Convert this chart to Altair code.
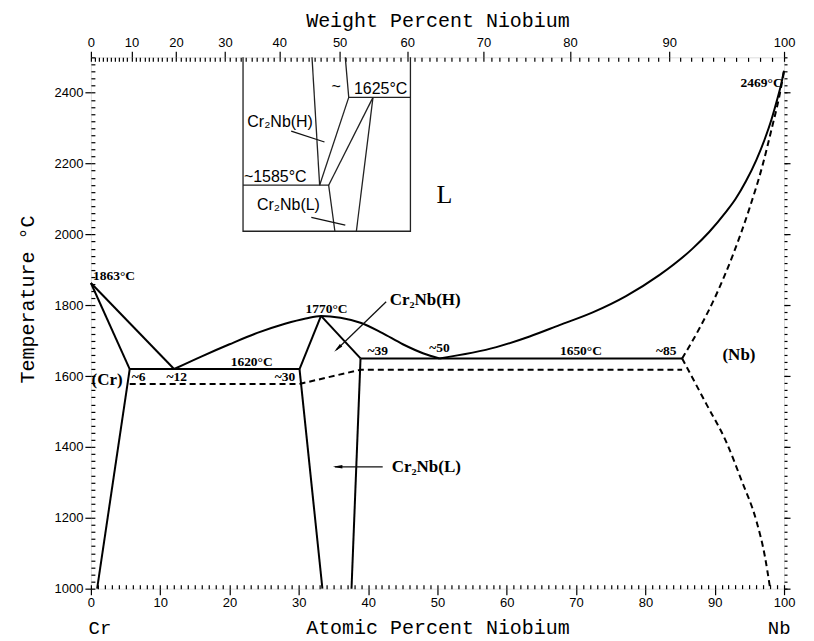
import altair as alt
import pandas as pd
import numpy as np

# ---------------- data (atomic % Nb, temperature degC) ----------------
# solid boundaries (straight)
cr_liq_x = [0.0, 12.0];            cr_liq_t = [1863, 1620]
cr_sol_x = [0.0, 5.6];             cr_sol_t = [1863, 1620]
cr_solvus_x = [5.6, 0.9];          cr_solvus_t = [1620, 1000]
eut1_x = [5.6, 30.1];              eut1_t = [1620, 1620]
h_left_x = [33.2, 30.1];           h_left_t = [1770, 1620]
h_right_x = [33.2, 38.9];          h_right_t = [1770, 1650]
l_left_x = [30.1, 33.4];           l_left_t = [1620, 1000]
l_right_x = [38.9, 37.6];          l_right_t = [1650, 1000]
eut2_x = [38.9, 85.3];             eut2_t = [1650, 1650]
# solid boundaries (curved)
dome_x = [12.0, 16.0, 20.0, 24.0, 28.0, 31.0, 33.2, 36.0, 39.0, 42.0, 45.0, 48.0, 50.3]
dome_t = [1620, 1656, 1690, 1722, 1748, 1763, 1770, 1765, 1750, 1722, 1690, 1664, 1650]
nb_liq_x = [50.3, 58.5, 63.3, 67.6, 72.4, 77.2, 82.0, 86.8, 89.2, 91.6, 93.0, 94.5, 96.0,
            97.2, 98.2, 99.0, 99.6, 100.0]
nb_liq_t = [1650, 1682, 1712, 1744, 1780, 1826, 1885, 1960, 2007, 2063, 2100, 2150, 2210,
            2268, 2325, 2380, 2425, 2462]
# dashed boundaries (straight)
d1_x = [5.6, 30.1];                d1_t = [1578, 1578]
d2_x = [30.1, 38.9, 85.3];         d2_t = [1578, 1618, 1618]
# dashed boundaries (curved)
nb_sol_x = [85.3, 87.8, 90.2, 92.6, 95.0, 96.9, 98.3, 99.3, 100.0]
nb_sol_t = [1650, 1735, 1829, 1941, 2073, 2195, 2305, 2388, 2462]
nb_solvus_x = [85.3, 88.8, 91.6, 93.9, 96.0, 97.2, 98.0]
nb_solvus_t = [1650, 1521, 1417, 1304, 1192, 1095, 1000]
# inset (drawn in the main coordinates)
ins_box_x = [21.95, 21.95, 46.1, 46.1];   ins_box_t = [2500, 2009, 2009, 2500]
ins_a_x = [31.9, 33.0];                    ins_a_t = [2500, 2139]
ins_b_x = [36.7, 37.2, 46.1];              ins_b_t = [2500, 2387, 2387]
ins_c_x = [37.2, 33.0];                    ins_c_t = [2387, 2139]
ins_d_x = [40.7, 34.3];                    ins_d_t = [2387, 2139]
ins_e_x = [40.7, 38.3];                    ins_e_t = [2387, 2009]
ins_f_x = [21.95, 34.3, 35.2];             ins_f_t = [2139, 2139, 2009]
ins_lh_x = [28.9, 33.7];                   ins_lh_t = [2292, 2261]
ins_ll_x = [31.8, 36.7];                   ins_ll_t = [2048, 2026]
# leader arrows in main diagram
arr_h_x = [42.6, 35.4];                    arr_h_t = [1810, 1674]
arr_l_x = [42.1, 35.2];                    arr_l_t = [1344, 1344]
head_x = [35.6, 35.6];  head_t = [1678, 1344];  head_angle = [227, 270]

# labels
main_lbl_text = ["1863°C", "~6", "~12", "1620°C", "~30", "1770°C", "~39", "~50",
                 "1650°C", "~85", "2469°C"]
main_lbl_x = [0.3, 6.9, 12.4, 23.2, 28.0, 34.0, 41.4, 50.3, 70.7, 83.0, 99.8]
main_lbl_t = [1882, 1597, 1597, 1640, 1597, 1790, 1670, 1680, 1670, 1672, 2428]
main_lbl_align = ["left", "center", "center", "center", "center", "center", "center",
                  "center", "center", "center", "right"]
phase_text = ["(Cr)", "(Nb)", "Cr₂Nb(H)", "Cr₂Nb(L)"]
phase_x = [0.1, 93.5, 43.1, 43.4]
phase_t = [1589, 1660, 1815, 1344]
phase_align = ["left", "center", "left", "left"]
ins_text = ["~", "1625°C", "Cr₂Nb(H)", "~1585°C", "Cr₂Nb(L)"]
ins_x = [35.4, 41.8, 27.3, 26.6, 28.5]
ins_t = [2415, 2412, 2318, 2163, 2082]

wt_ticks = [0, 10, 20, 30, 40, 50, 60, 70, 80, 90, 100]
at_ticks = [0, 10, 20, 30, 40, 50, 60, 70, 80, 90, 100]
t_ticks = [1000, 1200, 1400, 1600, 1800, 2000, 2200, 2400]

M_NB, M_CR = 92.906, 51.996
def wt_to_at(w):
    if w >= 100:
        return 100.0
    a = (w / M_NB) / (w / M_NB + (100 - w) / M_CR)
    return 100.0 * a

# ---------------- build tables ----------------
segs = {
    "solid": [(cr_liq_x, cr_liq_t), (cr_sol_x, cr_sol_t), (cr_solvus_x, cr_solvus_t),
              (eut1_x, eut1_t), (h_left_x, h_left_t), (h_right_x, h_right_t),
              (l_left_x, l_left_t), (l_right_x, l_right_t), (eut2_x, eut2_t)],
    "solid_curve": [(dome_x, dome_t), (nb_liq_x, nb_liq_t)],
    "dashed": [(d1_x, d1_t), (d2_x, d2_t)],
    "dashed_curve": [(nb_sol_x, nb_sol_t), (nb_solvus_x, nb_solvus_t)],
    "inset": [(ins_box_x, ins_box_t), (ins_a_x, ins_a_t), (ins_b_x, ins_b_t), (ins_c_x, ins_c_t),
              (ins_d_x, ins_d_t), (ins_e_x, ins_e_t), (ins_f_x, ins_f_t)],
    "leader": [(ins_lh_x, ins_lh_t), (ins_ll_x, ins_ll_t), (arr_h_x, arr_h_t), (arr_l_x, arr_l_t)],
}
rows = []
for kind, lst in segs.items():
    for k, (xs_, ts_) in enumerate(lst):
        for i, (xv, tv) in enumerate(zip(xs_, ts_)):
            rows.append({"kind": kind, "seg": f"{kind}{k}", "i": i, "x": xv, "t": tv})
lines = pd.DataFrame(rows)

xs = alt.Scale(domain=[0, 100], nice=False, zero=False)
ys = alt.Scale(domain=[1000, 2500], nice=False, zero=False)

TICKFONT = "Liberation Sans Narrow, Liberation Sans, sans-serif"
TITLEFONT = "Liberation Mono, monospace"

def line_layer(kind, width, dash=None, color="black", interp="linear"):
    kw = dict(strokeWidth=width, color=color, strokeCap="butt", strokeJoin="miter",
              interpolate=interp)
    if dash:
        kw["strokeDash"] = dash
    return alt.Chart(lines[lines["kind"] == kind]).mark_line(**kw).encode(
        x=alt.X("x:Q", scale=xs, axis=None),
        y=alt.Y("t:Q", scale=ys, axis=None),
        detail="seg:N", order="i:Q")

anchor = pd.DataFrame({"x": [50.0], "t": [1500.0]})
def axis_layer(xaxis=None, yaxis=None):
    return alt.Chart(anchor).mark_point(opacity=0).encode(
        x=alt.X("x:Q", scale=xs, axis=xaxis),
        y=alt.Y("t:Q", scale=ys, axis=yaxis))

common = dict(grid=False, domain=False, tickColor="black", tickWidth=1.2, labelFlush=False,
              labelColor="black", labelFont=TICKFONT, labelFontSize=13)

bottom_major = alt.Axis(orient="bottom", values=at_ticks, tickSize=6, labelPadding=2,
                        title="Atomic Percent Niobium", titleFont=TITLEFONT, titleFontSize=20,
                        titleFontWeight="normal", titleColor="black", titlePadding=8,
                        format="d", **common)
bottom_minor = alt.Axis(orient="bottom", values=list(range(0, 101)), tickSize=4, offset=-4,
                        labels=False, title=None, **common)
left_major = alt.Axis(orient="left", values=t_ticks, tickSize=6, labelPadding=2,
                      title="Temperature °C", titleFont=TITLEFONT, titleFontSize=20,
                      titleFontWeight="normal", titleColor="black", titlePadding=17,
                      titleY=242, format="d", **common)
left_minor = alt.Axis(orient="left", values=list(range(1000, 2501, 20)), tickSize=4, offset=-4,
                      labels=False, title=None, **common)
right_major = alt.Axis(orient="right", values=t_ticks, tickSize=6,
                       labels=False, title=None, **common)
right_minor = alt.Axis(orient="right", values=list(range(1000, 2501, 20)), tickSize=3,
                       labels=False, title=None, **common)
top_major = alt.Axis(orient="top", values=[wt_to_at(w) for w in wt_ticks], tickSize=6,
                     labelPadding=2,
                     labelExpr="format(round(100*datum.value*92.906/(datum.value*92.906+(100-datum.value)*51.996)), 'd')",
                     title="Weight Percent Niobium", titleFont=TITLEFONT, titleFontSize=20,
                     titleFontWeight="normal", titleColor="black", titlePadding=6, **common)
top_minor = alt.Axis(orient="top", values=[wt_to_at(w) for w in range(0, 101)], tickSize=4,
                     offset=-4, labels=False, title=None, **common)

main_lbl = pd.DataFrame({"text": main_lbl_text, "x": main_lbl_x, "t": main_lbl_t,
                         "al": main_lbl_align})
def text_layer(df, align, font, size, weight="normal"):
    return alt.Chart(df).mark_text(align=align, baseline="middle", font=font, fontSize=size,
                                   fontWeight=weight, color="black").encode(
        x=alt.X("x:Q", scale=xs, axis=None), y=alt.Y("t:Q", scale=ys, axis=None), text="text:N")

lbl_layers = []
for al in ["left", "center", "right"]:
    sub = main_lbl[main_lbl["al"] == al]
    if len(sub):
        lbl_layers.append(text_layer(sub, al, "Liberation Serif", 13.5, "bold"))
phase_df = pd.DataFrame({"text": phase_text, "x": phase_x, "t": phase_t, "al": phase_align})
for al in ["left", "center"]:
    sub = phase_df[phase_df["al"] == al]
    lbl_layers.append(text_layer(sub, al, "Liberation Serif", 17, "bold"))
ins_df = pd.DataFrame({"text": ins_text, "x": ins_x, "t": ins_t})
lbl_layers.append(text_layer(ins_df, "center", "Liberation Sans", 16))
big_L = pd.DataFrame({"text": ["L"], "x": [51.0], "t": [2110]})
lbl_layers.append(text_layer(big_L, "center", "Liberation Serif", 26))
ends = pd.DataFrame({"text": ["Cr", "Nb"], "x": [1.3, 99.3], "t": [888, 888]})
lbl_layers.append(text_layer(ends, "center", TITLEFONT, 19))

heads = pd.DataFrame({"x": head_x, "t": head_t, "ang": head_angle})
head_layer = alt.Chart(heads).mark_point(
    shape="M0,-1L0.38,1L-0.38,1Z", filled=True, color="black", opacity=1, size=90).encode(
    x=alt.X("x:Q", scale=xs, axis=None), y=alt.Y("t:Q", scale=ys, axis=None),
    angle=alt.Angle("ang:Q", scale=None))

chart = alt.layer(
    axis_layer(bottom_major, left_major),
    axis_layer(bottom_minor, left_minor),
    axis_layer(top_major, right_major),
    axis_layer(top_minor, right_minor),
    line_layer("solid", 2.0),
    line_layer("solid_curve", 2.0, interp="monotone"),
    line_layer("dashed", 2.0, dash=[6, 4]),
    line_layer("dashed_curve", 2.0, dash=[6, 4], interp="monotone"),
    line_layer("inset", 1.3, color="#222222"),
    line_layer("leader", 1.3, color="#111111"),
    head_layer,
    *lbl_layers,
).resolve_axis(x="independent", y="independent").properties(
    width=694, height=532,
    autosize=alt.AutoSizeParams(type="none"),
    padding={"left": 83, "top": 49, "right": 22, "bottom": 52},
).configure_view(stroke="black", strokeWidth=1.6).configure(background="white")

chart.save("out.html", embed_options={"renderer": "svg", "actions": False})
